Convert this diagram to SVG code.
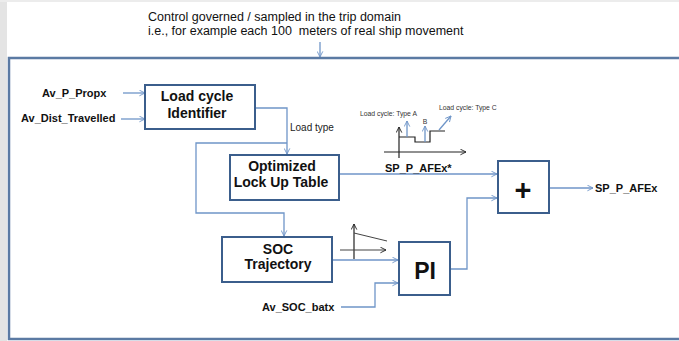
<svg xmlns="http://www.w3.org/2000/svg" width="679" height="341" viewBox="0 0 679 341">
  <defs>
    <marker id="ab" viewBox="0 0 10 10" refX="9" refY="5" markerWidth="7" markerHeight="7" markerUnits="userSpaceOnUse" orient="auto">
      <path d="M1,1 L9,5 L1,9" fill="none" stroke="#6f95c8" stroke-width="1.3"/>
    </marker>
    <marker id="ak" viewBox="0 0 10 10" refX="9" refY="5" markerWidth="7" markerHeight="7" markerUnits="userSpaceOnUse" orient="auto">
      <path d="M1,1 L9,5 L1,9" fill="none" stroke="#222" stroke-width="1.3"/>
    </marker>
    <style>
      .box { fill: #fff; stroke: #3b5e8c; stroke-width: 2; }
      .lbl { font-family: "Liberation Sans", Arial, sans-serif; font-weight: bold; font-size: 11px; fill: #111; }
      .btxt { font-family: "Liberation Sans", Arial, sans-serif; font-weight: bold; font-size: 14px; fill: #111; text-anchor: middle; }
      .con { fill: none; stroke: #6f95c8; stroke-width: 1.3; marker-end: url(#ab); }
      .ax { fill: none; stroke: #222; stroke-width: 1.2; }
      .small { font-family: "Liberation Sans", Arial, sans-serif; font-size: 6.8px; fill: #333; }
      .title { font-family: "Liberation Sans", Arial, sans-serif; font-size: 12.5px; fill: #111; }
    </style>
  </defs>

  <rect x="0" y="0" width="679" height="341" fill="#fff"/>
  <rect x="0" y="0" width="7" height="341" fill="#e4e4e4"/>
  <rect x="0" y="0" width="679" height="2" fill="#ececec"/>

  <!-- frame -->
  <rect id="frame" x="9" y="58" width="690" height="281" fill="#fff" stroke="#5b7aa3" stroke-width="2.5"/>

  <text class="title" x="148" y="21">Control governed / sampled in the trip domain</text>
  <text class="title" x="148" y="35" xml:space="preserve">i.e., for example each 100  meters of real ship movement</text>

  <g id="connectors">
    <path class="con" d="M320,42 V57"/>
    <path class="con" d="M123,93 H145"/>
    <path class="con" d="M121,119 H145"/>
    <path class="con" d="M255,108 H287 V154"/>
    <path class="con" d="M287,143 H196 V213 H284 V236"/>
    <path class="con" d="M339,174 H497"/>
    <path class="con" d="M332,260 H398"/>
    <path class="con" d="M341,307 H375 V283 H398"/>
    <path class="con" d="M450,269 H467 V198 H497"/>
    <path class="con" d="M549,188 H593"/>
  </g>

  <g id="inputs">
    <text class="lbl" x="42" y="97">Av_P_Propx</text>
    <text class="lbl" x="21" y="122">Av_Dist_Travelled</text>
    <text class="lbl" x="262" y="311">Av_SOC_batx</text>
    <text class="lbl" x="385" y="172">SP_P_AFEx*</text>
    <text class="lbl" x="595" y="192">SP_P_AFEx</text>
    <text x="290" y="131" font-family="Liberation Sans, Arial, sans-serif" font-size="10" fill="#222">Load type</text>
  </g>

  <g id="load-cycle-identifier">
    <rect class="box" x="145" y="85" width="110" height="44"/>
    <text class="btxt" x="197" y="101">Load cycle</text>
    <text class="btxt" x="197" y="118">Identifier</text>
  </g>

  <g id="lookup-table">
    <rect class="box" x="230" y="155" width="109" height="45"/>
    <text class="btxt" x="282" y="171">Optimized</text>
    <text class="btxt" x="281" y="187">Lock Up Table</text>
  </g>

  <g id="soc-trajectory">
    <rect class="box" x="222" y="237" width="110" height="45"/>
    <text class="btxt" x="278" y="254">SOC</text>
    <text class="btxt" x="278" y="269">Trajectory</text>
  </g>

  <g id="pi">
    <rect class="box" x="399" y="242" width="51" height="53"/>
    <text x="425" y="279" text-anchor="middle" font-family="Liberation Sans, Arial, sans-serif" font-weight="bold" font-size="23" fill="#111">PI</text>
  </g>

  <g id="sum">
    <rect class="box" x="498" y="161" width="51" height="52"/>
    <text x="523" y="200" text-anchor="middle" font-family="Liberation Sans, Arial, sans-serif" font-weight="bold" font-size="29" fill="#111">+</text>
  </g>

  <g id="load-cycle-chart">
    <path class="ax" d="M399,158 V127" marker-end="url(#ak)"/>
    <path class="ax" d="M384,152 H466" marker-end="url(#ak)"/>
    <path class="ax" d="M399,137 H415 V142 H430 V131 H445"/>
    <path class="con" d="M407,137 V121"/>
    <path class="con" d="M425,142 V126"/>
    <path class="con" d="M439,130 L451,116"/>
    <text class="small" x="360" y="116">Load cycle: Type A</text>
    <text class="small" x="425" y="123.5" text-anchor="middle">B</text>
    <text class="small" x="439" y="110">Load cycle: Type C</text>
  </g>

  <g id="soc-chart">
    <path class="ax" d="M354,259 V224" marker-end="url(#ak)"/>
    <path d="M340,250 H386" fill="none" stroke="#444" stroke-width="1.1" marker-end="url(#ak)"/>
    <path d="M354,233 L387,241" fill="none" stroke="#444" stroke-width="1"/>
  </g>
</svg>
